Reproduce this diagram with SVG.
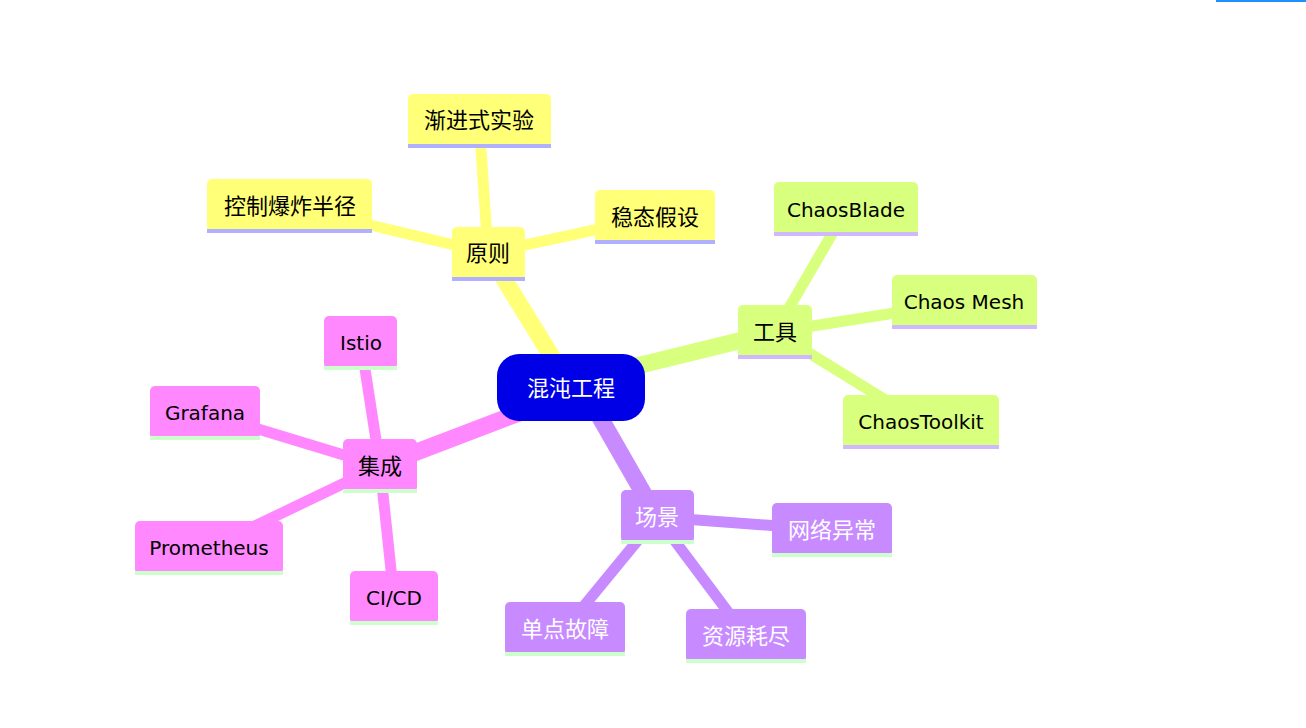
<svg xmlns="http://www.w3.org/2000/svg" width="1306" height="728" viewBox="0 0 1306 728">
<style>
text{font-family:"DejaVu Sans","Noto Sans CJK SC",sans-serif;font-size:20px;text-anchor:middle;dominant-baseline:central}
text.c{font-size:22px}
.y{fill:#ffff78}.g{fill:#d9ff7e}.p{fill:#c78bff}.m{fill:#ff88ff}
.uy{fill:#b0b0ff}.ug{fill:#d0b8ff}.up{fill:#ccffcc}.um{fill:#ccffcc}
.ly{stroke:#ffff78}.lg{stroke:#d9ff7e}.lp{stroke:#c78bff}.lm{stroke:#ff88ff}
line{stroke-linecap:butt}
.w1{stroke-width:17}.w2{stroke-width:11}
.k{fill:#000}.wt{fill:#fff}
</style>
<rect x="1216" y="0" width="90" height="2" fill="#1e90ff"/>
<g id="connectors">
<line class="ly w1" x1="560" y1="370" x2="488" y2="253"/>
<line class="ly w2" x1="488" y1="253" x2="479" y2="120"/>
<line class="ly w2" x1="488" y1="253" x2="290" y2="206"/>
<line class="ly w2" x1="488" y1="253" x2="655" y2="217"/>
<line class="lg w1" x1="600" y1="375" x2="775" y2="332"/>
<line class="lg w2" x1="775" y1="332" x2="846" y2="210"/>
<line class="lg w2" x1="775" y1="332" x2="964" y2="302"/>
<line class="lg w2" x1="775" y1="332" x2="921" y2="422"/>
<line class="lp w1" x1="590" y1="400" x2="657" y2="517"/>
<line class="lp w2" x1="657" y1="517" x2="832" y2="530"/>
<line class="lp w2" x1="657" y1="517" x2="746" y2="636"/>
<line class="lp w2" x1="657" y1="517" x2="565" y2="629"/>
<line class="lm w1" x1="540" y1="405" x2="380" y2="466"/>
<line class="lm w2" x1="380" y1="466" x2="361" y2="343"/>
<line class="lm w2" x1="380" y1="466" x2="205" y2="413"/>
<line class="lm w2" x1="380" y1="466" x2="209" y2="548"/>
<line class="lm w2" x1="380" y1="466" x2="394" y2="598"/>
</g>
<g id="root"><rect x="497" y="354" width="148" height="67" rx="22" fill="#0000e6"/><text class="wt c" x="571" y="388">混沌工程</text></g>
<g id="yuanze"><rect class="y" x="452" y="227" width="73" height="53" rx="5"/><rect class="uy" x="452" y="277" width="73" height="4"/><text class="k c" x="488" y="253">原则</text></g>
<g id="jianjin"><rect class="y" x="408" y="94" width="143" height="53" rx="5"/><rect class="uy" x="408" y="144" width="143" height="4"/><text class="k c" x="479" y="120">渐进式实验</text></g>
<g id="kongzhi"><rect class="y" x="207" y="179" width="165" height="53" rx="5"/><rect class="uy" x="207" y="229" width="165" height="4"/><text class="k c" x="290" y="206">控制爆炸半径</text></g>
<g id="wentai"><rect class="y" x="595" y="190" width="120" height="53" rx="5"/><rect class="uy" x="595" y="240" width="120" height="4"/><text class="k c" x="655" y="217">稳态假设</text></g>
<g id="gongju"><rect class="g" x="738" y="305" width="74" height="53" rx="5"/><rect class="ug" x="738" y="355" width="74" height="4"/><text class="k c" x="775" y="332">工具</text></g>
<g id="chaosblade"><rect class="g" x="774" y="182" width="144" height="53" rx="5"/><rect class="ug" x="774" y="232" width="144" height="4"/><text class="k" x="846" y="210">ChaosBlade</text></g>
<g id="chaosmesh"><rect class="g" x="892" y="275" width="145" height="53" rx="5"/><rect class="ug" x="892" y="325" width="145" height="4"/><text class="k" x="964" y="302">Chaos Mesh</text></g>
<g id="chaostoolkit"><rect class="g" x="843" y="395" width="156" height="53" rx="5"/><rect class="ug" x="843" y="445" width="156" height="4"/><text class="k" x="921" y="422">ChaosToolkit</text></g>
<g id="changjing"><rect class="p" x="621" y="490" width="73" height="53" rx="5"/><rect class="up" x="621" y="540" width="73" height="4"/><text class="wt c" x="657" y="517">场景</text></g>
<g id="wangluo"><rect class="p" x="772" y="503" width="120" height="53" rx="5"/><rect class="up" x="772" y="553" width="120" height="4"/><text class="wt c" x="832" y="530">网络异常</text></g>
<g id="ziyuan"><rect class="p" x="686" y="609" width="120" height="53" rx="5"/><rect class="up" x="686" y="659" width="120" height="4"/><text class="wt c" x="746" y="636">资源耗尽</text></g>
<g id="dandian"><rect class="p" x="505" y="602" width="120" height="53" rx="5"/><rect class="up" x="505" y="652" width="120" height="4"/><text class="wt c" x="565" y="629">单点故障</text></g>
<g id="jicheng"><rect class="m" x="343" y="439" width="74" height="53" rx="5"/><rect class="um" x="343" y="489" width="74" height="4"/><text class="k c" x="380" y="466">集成</text></g>
<g id="istio"><rect class="m" x="324" y="316" width="73" height="53" rx="5"/><rect class="um" x="324" y="366" width="73" height="4"/><text class="k" x="361" y="343">Istio</text></g>
<g id="grafana"><rect class="m" x="150" y="386" width="110" height="53" rx="5"/><rect class="um" x="150" y="436" width="110" height="4"/><text class="k" x="205" y="413">Grafana</text></g>
<g id="prometheus"><rect class="m" x="135" y="521" width="148" height="53" rx="5"/><rect class="um" x="135" y="571" width="148" height="4"/><text class="k" x="209" y="548">Prometheus</text></g>
<g id="cicd"><rect class="m" x="350" y="571" width="88" height="53" rx="5"/><rect class="um" x="350" y="621" width="88" height="4"/><text class="k" x="394" y="598">CI/CD</text></g>
</svg>
